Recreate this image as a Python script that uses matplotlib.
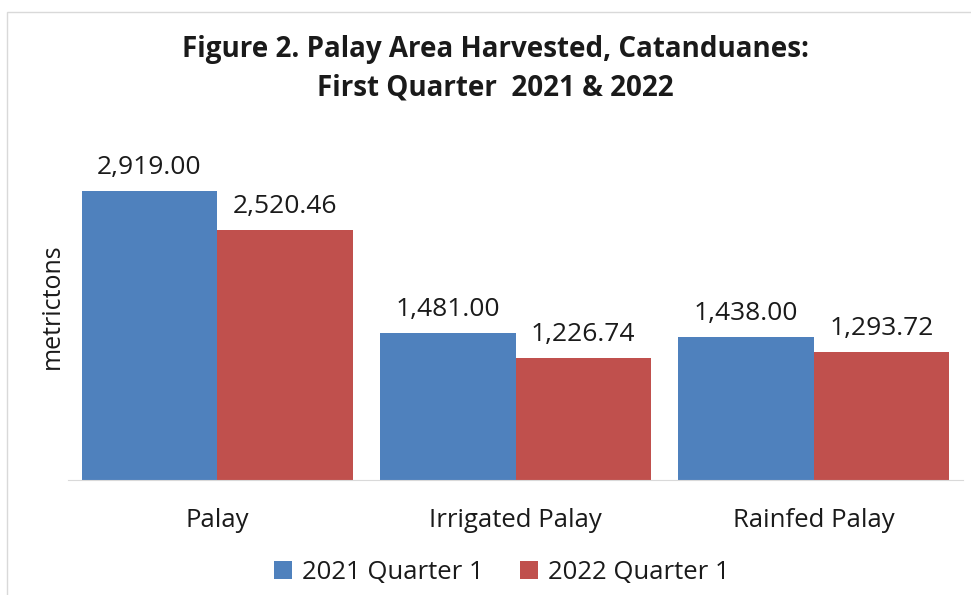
import matplotlib.pyplot as plt
import numpy as np
from matplotlib.patches import Rectangle

categories = ['Palay', 'Irrigated Palay', 'Rainfed Palay']
q1_2021 = [2919.00, 1481.00, 1438.00]
q1_2022 = [2520.46, 1226.74, 1293.72]
series_names = ['2021 Quarter 1', '2022 Quarter 1']

plt.rcParams['font.family'] = ['Open Sans', 'DejaVu Sans']

fig = plt.figure(figsize=(9.71, 5.95), dpi=100)
ax = fig.add_axes([68 / 971, 115 / 595, 895 / 971, 330 / 595])

x = np.arange(len(categories))
w = 0.454
b1 = ax.bar(x - w / 2, q1_2021, w, color='#4F81BD', label=series_names[0])
b2 = ax.bar(x + w / 2, q1_2022, w, color='#C0504D', label=series_names[1])

for bars in (b1, b2):
    for r in bars:
        ax.annotate(f'{r.get_height():,.2f}', (r.get_x() + r.get_width() / 2, r.get_height()),
                    xytext=(0, 8), textcoords='offset points', ha='center', va='bottom',
                    fontsize=19, color='#1a1a1a')

ax.set_xlim(-0.5, 2.5)
ax.set_ylim(0, 3330)
ax.set_xticks(x)
ax.set_xticklabels(categories, fontsize=18.5, color='#1a1a1a')
ax.tick_params(axis='x', length=0, pad=20)
ax.set_yticks([])
for s in ['top', 'right', 'left']:
    ax.spines[s].set_visible(False)
ax.spines['bottom'].set_color('#d9d9d9')
ax.set_ylabel('metrictons', fontsize=18, color='#1a1a1a')
ax.yaxis.set_label_coords(-0.004, 0.527)

fig.text(0.51, 0.942, 'Figure 2. Palay Area Harvested, Catanduanes:\nFirst Quarter  2021 & 2022',
         ha='center', va='top', fontsize=20, fontweight='bold', linespacing=1.45, color='#1a1a1a')

fig.legend(loc='lower center', bbox_to_anchor=(0.517, -0.022), ncol=2, frameon=False,
           fontsize=18.5, handlelength=0.7, handleheight=0.7, handletextpad=0.4, columnspacing=1.4,
           labelcolor='#1a1a1a')

# outer chart border
fig.patches.append(Rectangle((7 / 971, -0.05), 1.2, (595 - 12) / 595 + 0.05, transform=fig.transFigure,
                             fill=False, edgecolor='#d9d9d9', linewidth=1))

fig.savefig('out.png', dpi=100)
